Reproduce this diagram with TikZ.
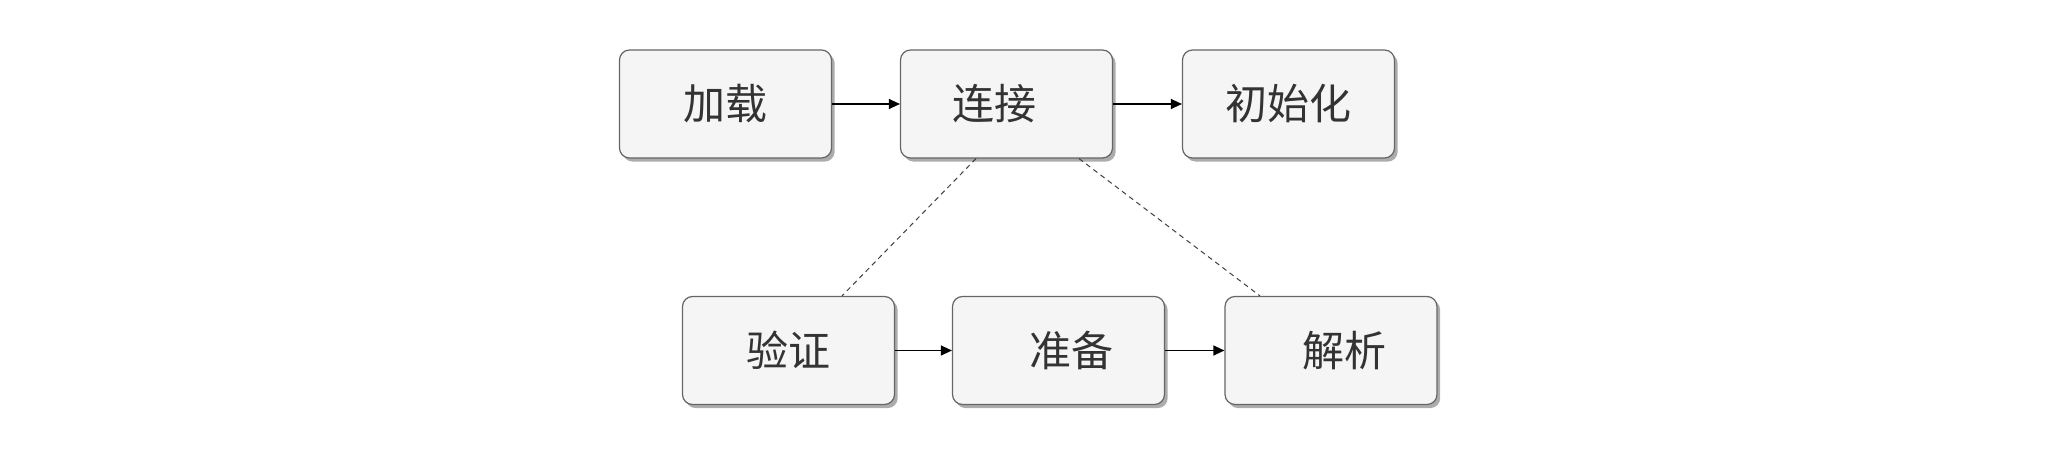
\documentclass[tikz,border=0pt]{standalone}
\usepackage{fontspec}
\newfontfamily\cjk{Noto Sans CJK SC}
\usetikzlibrary{positioning}
\usetikzlibrary{shadows}
\usetikzlibrary{arrows.meta}
\definecolor{boxfill}{HTML}{F5F5F5}
\definecolor{boxline}{HTML}{666666}
\definecolor{boxtext}{HTML}{333333}
\tikzset{%
  every stage/.style={
    rectangle,
    rounded corners=5pt,
    draw=boxline,
    fill=boxfill,
    line width=0.6pt,
    minimum width=106pt,
    minimum height=54pt,
    inner sep=0pt,
    text=boxtext,
    font=\cjk\fontsize{21pt}{25pt}\selectfont,
    drop shadow={shadow xshift=1.6pt, shadow yshift=-1.8pt, opacity=0.5, fill=black!65}
  },
  flow/.style={
    -{Triangle[length=5.5pt,width=5pt]},
    line width=0.65pt,
    black
  },
  link/.style={
    dash pattern=on 2.5pt off 2pt,
    line width=0.5pt,
    black!75
  },
}

\begin{document}
\begin{tikzpicture}[x=0.5pt, y=-0.5pt]
\useasboundingbox (0,0) rectangle (2069,453);
    % upper row
    \node[every stage] (load) at (725.5,104) {加载};
    \node[every stage] (link) at (1006.5,104) {连接\hspace*{12pt}};
    \node[every stage] (init) at (1288.5,104) {初始化};
    % lower row
    \node[every stage] (verify) at (788.5,350.5) {验证};
    \node[every stage] (prepare) at (1058.5,350.5) {\hspace*{13pt}准备};
    \node[every stage] (resolve) at (1331,350.5) {\hspace*{13pt}解析};

    \draw[flow] (load) -- (link);
    \draw[flow] (link) -- (init);
    \draw[flow] (verify) -- (prepare);
    \draw[flow] (prepare) -- (resolve);

    \draw[link] ([xshift=-15.25pt]link.south) -- ([xshift=26.75pt]verify.north);
    \draw[link] ([xshift=36.25pt]link.south) -- ([xshift=-35.5pt]resolve.north);
\end{tikzpicture}
\end{document}
